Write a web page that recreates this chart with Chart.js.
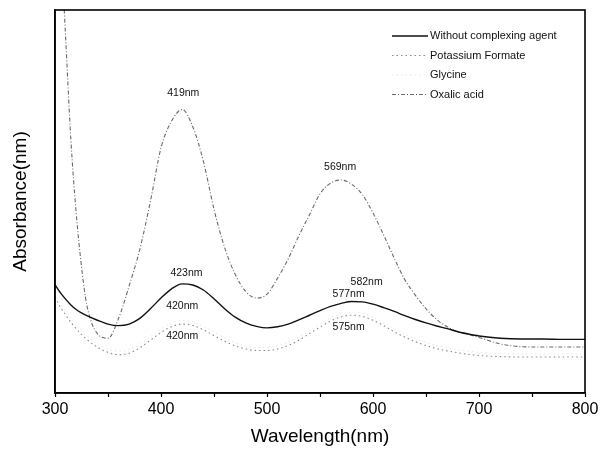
<!DOCTYPE html>
<html>
<head>
<meta charset="utf-8">
<script src="https://cdn.jsdelivr.net/npm/chart.js@4"></script>
<style>
    html, body { margin: 0; padding: 0; background: #fff; }
    #wrap { width: 604px; height: 455px; }
</style>
</head>
<body>
<div id="wrap"><canvas id="spectra"></canvas></div>
<script>
// 波长 (nm)
const wavelengths = [300, 305, 310, 315, 320, 325, 330, 340, 350, 360, 370, 380, 390, 400, 410, 420, 430, 440, 450, 460,
    470, 480, 490, 500, 510, 520, 530, 540, 550, 560, 570, 580, 590, 600, 610, 620, 630, 640, 650, 660,
    670, 680, 690, 700, 720, 740, 760, 780, 800];

// 吸光度 (任意单位)
const withoutAgent = [28.3, 26.2, 24.5, 23.0, 21.8, 20.9, 20.2, 19.0, 18.0, 17.6, 18.0, 19.5, 22.0, 24.8, 27.2, 28.5, 28.2, 26.9, 24.6, 22.0,
    19.8, 18.3, 17.4, 17.0, 17.3, 18.0, 19.1, 20.3, 21.5, 22.6, 23.4, 23.9, 23.8, 23.2, 22.3, 21.3, 20.2, 19.2, 18.3, 17.5,
    16.8, 16.0, 15.4, 14.9, 14.3, 14.1, 14.1, 14.0, 14.0];
const potassiumFormate = [25.0, 22.5, 20.4, 18.5, 16.8, 15.3, 14.0, 12.0, 10.6, 10.0, 10.4, 11.8, 13.8, 15.8, 17.3, 18.0, 17.6, 16.5, 15.0, 13.5,
    12.3, 11.5, 11.1, 11.1, 11.5, 12.4, 13.8, 15.5, 17.2, 18.8, 19.9, 20.3, 20.0, 19.0, 17.6, 16.0, 14.6, 13.4, 12.4, 11.6,
    11.0, 10.5, 10.1, 9.8, 9.5, 9.4, 9.4, 9.4, 9.4];
const glycine = [26.0, 23.5, 21.3, 19.4, 17.7, 16.2, 14.9, 12.9, 11.5, 10.9, 11.3, 12.7, 14.7, 16.8, 18.3, 18.9, 18.6, 17.4, 15.9, 14.4,
    13.1, 12.3, 11.9, 11.9, 12.3, 13.2, 14.6, 16.3, 18.0, 19.6, 20.7, 21.1, 20.8, 19.8, 18.4, 16.8, 15.4, 14.2, 13.2, 12.4,
    11.8, 11.3, 10.9, 10.6, 10.3, 10.2, 10.2, 10.2, 10.2];
const oxalicAcid = [140, 120, 93, 66, 47, 33, 23, 15.5, 14.3, 19.5, 28, 37.5, 50, 64, 71, 74, 69.5, 60.5, 48, 38,
    31, 26.5, 24.8, 25.8, 30, 35, 41, 46.5, 52, 54.8, 55.6, 54.5, 51.8, 47, 41.3, 35.2, 29.6, 25.5, 22, 19.2,
    17.3, 16.0, 15.3, 14.5, 12.8, 12.1, 12.0, 12.0, 12.0];

// 峰位标注
const peakLabels = ['419nm', '569nm', '423nm', '420nm', '420nm', '582nm', '577nm', '575nm'];
const peakLabelX = [421, 569, 424, 420, 420, 594, 577, 577];
const peakLabelY = [78.3, 59.0, 31.3, 22.7, 14.9, 29.0, 25.8, 17.2];

// x轴刻度
const xTickValues = [300, 400, 500, 600, 700, 800];

const seriesNames = ['Without complexing agent', 'Potassium Formate', 'Glycine', 'Oxalic acid'];
const seriesColors = ['#111111', '#8a8a8a', '#e6e6e6', '#6a6a6a'];
const seriesDashes = [[], [1.5, 3], [1.5, 3], [4, 2, 1, 2]];
const seriesWidths = [1.4, 1.1, 1.0, 1.1];

const FONT = '"Liberation Sans", Arial, sans-serif';

function toPoints(values) {
    return wavelengths.map((w, i) => ({ x: w, y: values[i] }));
}

// 边框
const framePlugin = {
    id: 'frame',
    afterDraw(chart) {
        const { ctx, chartArea: a } = chart;
        ctx.save();
        ctx.strokeStyle = '#000';
        ctx.lineWidth = 1.6;
        ctx.strokeRect(a.left, a.top, a.right - a.left, a.bottom - a.top);
        ctx.restore();
    }
};

// 图内图例
const insideLegendPlugin = {
    id: 'insideLegend',
    afterDraw(chart) {
        const { ctx, chartArea: a } = chart;
        ctx.save();
        ctx.font = '11px ' + FONT;
        ctx.textBaseline = 'middle';
        seriesNames.forEach((name, i) => {
            const y = a.top + 26 + i * 19.5;
            ctx.strokeStyle = seriesColors[i];
            ctx.lineWidth = seriesWidths[i];
            ctx.setLineDash(seriesDashes[i]);
            ctx.beginPath();
            ctx.moveTo(a.right - 193, y);
            ctx.lineTo(a.right - 157, y);
            ctx.stroke();
            ctx.fillStyle = '#111';
            ctx.fillText(name, a.right - 155, y);
        });
        ctx.restore();
    }
};

// 峰位文字
const peakLabelPlugin = {
    id: 'peakLabels',
    afterDatasetsDraw(chart) {
        const { ctx, scales } = chart;
        ctx.save();
        ctx.font = '10.5px ' + FONT;
        ctx.fillStyle = '#111';
        ctx.textAlign = 'center';
        ctx.textBaseline = 'middle';
        peakLabels.forEach((txt, i) => {
            ctx.fillText(txt, scales.x.getPixelForValue(peakLabelX[i]), scales.y.getPixelForValue(peakLabelY[i]));
        });
        ctx.restore();
    }
};

const datasets = [withoutAgent, potassiumFormate, glycine, oxalicAcid].map((vals, i) => ({
    label: seriesNames[i],
    data: toPoints(vals),
    borderColor: seriesColors[i],
    borderWidth: seriesWidths[i],
    borderDash: seriesDashes[i],
    pointRadius: 0,
    fill: false,
    cubicInterpolationMode: 'monotone'
}));

new Chart(document.getElementById('spectra'), {
    type: 'line',
    data: { datasets },
    options: {
        responsive: true,
        maintainAspectRatio: false,
        animation: false,
        layout: { padding: { top: 10, right: 19, left: 0, bottom: 0 } },
        plugins: {
            legend: { display: false },
            tooltip: { enabled: false }
        },
        scales: {
            x: {
                type: 'linear',
                min: 300,
                max: 800,
                afterFit(scale) { scale.height = 62; },
                afterBuildTicks(scale) {
                    const ticks = [];
                    for (let v = 300; v <= 800; v += 50) ticks.push({ value: v });
                    scale.ticks = ticks;
                },
                ticks: {
                    color: '#000',
                    font: { family: FONT, size: 16 },
                    padding: 3,
                    maxRotation: 0,
                    autoSkip: false,
                    callback: (v) => xTickValues.includes(v) ? String(v) : ''
                },
                grid: { drawOnChartArea: false, color: '#000', tickLength: 4, tickWidth: 1.2 },
                border: { color: '#000', width: 1.6 },
                title: {
                    display: true,
                    text: 'Wavelength(nm)',
                    color: '#000',
                    font: { family: FONT, size: 19 },
                    padding: { top: 0, bottom: 7 }
                }
            },
            y: {
                min: 0,
                max: 100,
                afterFit(scale) { scale.width = 55; },
                ticks: { display: false },
                grid: { display: false },
                border: { color: '#000', width: 1.6 },
                title: {
                    display: true,
                    text: 'Absorbance(nm)',
                    color: '#000',
                    font: { family: FONT, size: 19 },
                    padding: { top: 9, bottom: 0 }
                }
            }
        }
    },
    plugins: [framePlugin, insideLegendPlugin, peakLabelPlugin]
});
</script>
</body>
</html>
